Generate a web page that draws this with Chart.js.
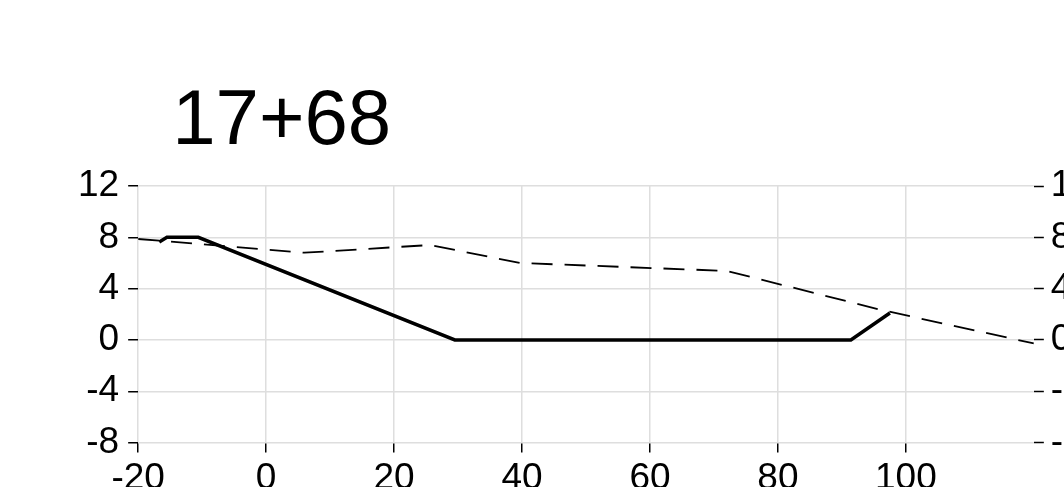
<!DOCTYPE html>
<html>
<head>
<meta charset="utf-8">
<script src="https://cdn.jsdelivr.net/npm/chart.js@4/dist/chart.umd.min.js"></script>
<style>
  html, body { margin: 0; padding: 0; background: #fff; overflow: hidden; }
  #sectionChart { display: block; }
</style>
</head>
<body>
<canvas id="sectionChart" width="1100" height="510"></canvas>
<script>
// station label
const stationTitle = "17+68";

// existing ground (dashed)
const groundX = [-20, 6, 25.6, 39.7, 72, 96, 120];
const groundY = [7.87, 6.8, 7.4, 6.0, 5.38, 2.36, -0.27];

// design template (solid)
const designX = [-16.7, -15.5, -10.6, 29.5, 91.4, 97.5];
const designY = [7.64, 8, 8, 0, 0, 2.1];

// axis ticks
const xTicks = [-20, 0, 20, 40, 60, 80, 100];
const yTicks = [-8, -4, 0, 4, 8, 12];

const toPoints = (xs, ys) => xs.map((x, i) => ({ x: x, y: ys[i] }));

const labelFont = { family: "'Liberation Sans', Arial, sans-serif", size: 37 };

// draws the big station label a bit right of the plot's left edge
const stationLabel = {
  id: "stationLabel",
  afterDraw(chart) {
    const { ctx, chartArea } = chart;
    ctx.save();
    ctx.font = "78px 'Liberation Sans', Arial, sans-serif";
    ctx.fillStyle = "#000";
    ctx.textBaseline = "alphabetic";
    ctx.textAlign = "left";
    ctx.fillText(stationTitle, chartArea.left + 34, chartArea.top - 42);
    ctx.restore();
  }
};

const ctx = document.getElementById("sectionChart");
new Chart(ctx, {
  type: "line",
  data: {
    datasets: [
      {
        label: "Ground",
        data: toPoints(groundX, groundY),
        borderColor: "#000",
        borderWidth: 1.8,
        borderDash: [21, 12],
        pointRadius: 0,
        fill: false,
        tension: 0
      },
      {
        label: "Design",
        data: toPoints(designX, designY),
        borderColor: "#000",
        borderWidth: 3.5,
        pointRadius: 0,
        fill: false,
        tension: 0
      }
    ]
  },
  options: {
    responsive: false,
    animation: false,
    layout: { padding: { left: 69, right: 1, top: 186, bottom: 5 } },
    plugins: {
      legend: { display: false },
      tooltip: { enabled: false },
      title: { display: false }
    },
    scales: {
      x: {
        type: "linear",
        min: -20,
        max: 120,
        afterBuildTicks: (axis) => { axis.ticks = xTicks.map(v => ({ value: v })); },
        grid: { color: "#dedede", lineWidth: 1.5, tickLength: 10, tickColor: "#000", tickWidth: 1.5 },
        border: { display: false },
        ticks: {
          color: "#000",
          font: labelFont,
          padding: 4,
          maxRotation: 0,
          autoSkip: false
        }
      },
      y: {
        position: "left",
        min: -8,
        max: 12,
        afterBuildTicks: (axis) => { axis.ticks = yTicks.map(v => ({ value: v })); },
        grid: { color: "#dedede", lineWidth: 1.5, tickLength: 10, tickColor: "#000", tickWidth: 1.5 },
        border: { display: false },
        ticks: { color: "#000", font: labelFont, padding: 9 }
      },
      y2: {
        position: "right",
        min: -8,
        max: 12,
        afterBuildTicks: (axis) => { axis.ticks = yTicks.map(v => ({ value: v })); },
        grid: { drawOnChartArea: false, tickLength: 10, tickColor: "#000", tickWidth: 1.5 },
        border: { display: false },
        ticks: { color: "#000", font: labelFont, padding: 7 }
      }
    }
  },
  plugins: [stationLabel]
});
</script>
</body>
</html>
